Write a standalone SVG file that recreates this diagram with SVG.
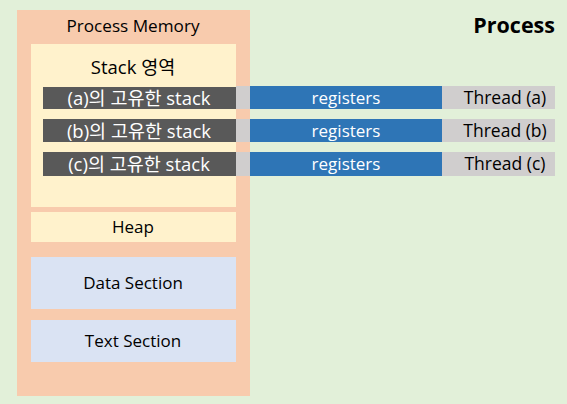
<svg xmlns="http://www.w3.org/2000/svg" width="567" height="404" viewBox="0 0 567 404">
<style>
.t{font-family:"Open Sans","Liberation Sans","Noto Sans CJK KR",sans-serif;font-size:17px;fill:#000;text-anchor:middle}
.w{fill:#fff}
.k{font-size:18.5px}
.dark{fill:#595959}
.gray{fill:#D0CECE}
.blue{fill:#2E75B6}
</style>
<rect x="0" y="0" width="567" height="404" fill="#E2F0D9"/>
<text class="t" x="555" y="33" style="font-size:21.5px;font-weight:bold;text-anchor:end">Process</text>
<g id="process-memory">
<rect x="17" y="10" width="233" height="386" fill="#F8CBAD"/>
<text class="t" x="133" y="32" textLength="133" lengthAdjust="spacingAndGlyphs">Process Memory</text>
</g>
<g id="stack">
<rect x="31" y="44" width="205" height="163" fill="#FFF2CC"/>
<text class="t" x="133" y="74" style="font-size:18.5px">Stack 영역</text>
</g>
<g id="heap">
<rect x="31" y="212" width="205" height="30" fill="#FFF2CC"/>
<text class="t" x="133" y="233">Heap</text>
</g>
<g id="data">
<rect x="31" y="257" width="205" height="52" fill="#DAE3F3"/>
<text class="t" x="133" y="289">Data Section</text>
</g>
<g id="text">
<rect x="31" y="320" width="205" height="42" fill="#DAE3F3"/>
<text class="t" x="133" y="347">Text Section</text>
</g>
<g id="thread-a">
<rect class="dark" x="43" y="87" width="193" height="22"/>
<rect class="gray" x="236" y="86" width="14" height="23"/>
<rect class="blue" x="250" y="86" width="192" height="23"/>
<rect class="gray" x="442" y="86" width="113" height="23"/>
<text class="t w k" x="139" y="104.5">(a)의 고유한 stack</text>
<text class="t w" x="346" y="104">registers</text>
<text class="t" x="505" y="104" style="font-size:17.5px">Thread (a)</text>
</g>
<g id="thread-b">
<rect class="dark" x="43" y="119" width="193" height="23"/>
<rect class="gray" x="236" y="119" width="14" height="23"/>
<rect class="blue" x="250" y="119" width="192" height="23"/>
<rect class="gray" x="442" y="119" width="113" height="23"/>
<text class="t w k" x="139" y="137.5">(b)의 고유한 stack</text>
<text class="t w" x="346" y="137">registers</text>
<text class="t" x="505" y="137" style="font-size:17.5px">Thread (b)</text>
</g>
<g id="thread-c">
<rect class="dark" x="43" y="152" width="193" height="24"/>
<rect class="gray" x="236" y="152" width="14" height="24"/>
<rect class="blue" x="250" y="152" width="192" height="24"/>
<rect class="gray" x="442" y="152" width="113" height="24"/>
<text class="t w k" x="139" y="170.5">(c)의 고유한 stack</text>
<text class="t w" x="346" y="170">registers</text>
<text class="t" x="505" y="170" style="font-size:17.5px">Thread (c)</text>
</g>
<g id="connectors"></g>
</svg>
